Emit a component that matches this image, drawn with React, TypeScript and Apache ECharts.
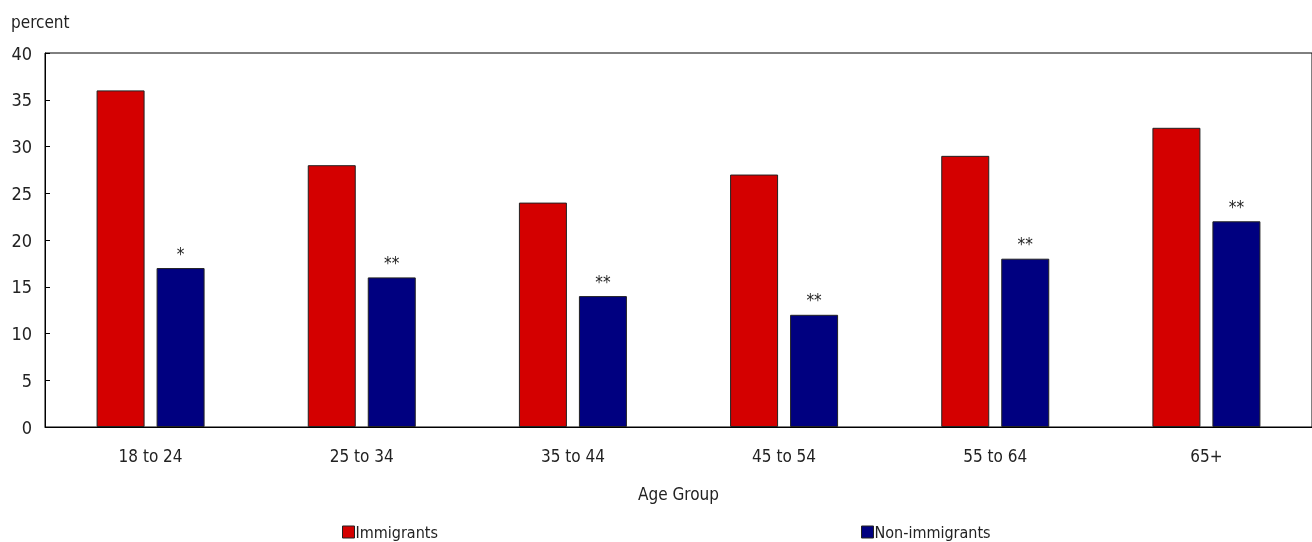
import React, { useEffect, useRef } from "react";
import * as echarts from "echarts";

const categories = ["18 to 24", "25 to 34", "35 to 44", "45 to 54", "55 to 64", "65+"];
const immigrants = [36, 28, 24, 27, 29, 32];
const nonImmigrants = [17, 16, 14, 12, 18, 22];
const significance = ["*", "**", "**", "**", "**", "**"];
const yTicks = { min: 0, max: 40, interval: 5 };

const FONT = "'DejaVu Sans Condensed', 'Liberation Sans Narrow', Roboto, sans-serif";
const TEXT = "#222";
const FS = 17;

export default function App() {
  const ref = useRef<HTMLDivElement>(null);
  useEffect(() => {
    if (!ref.current) return;
    const chart = echarts.init(ref.current, undefined, { renderer: "svg" });
    const legendBase = {
      top: 523,
      icon: "rect",
      itemWidth: 12,
      itemHeight: 12,
      padding: 0,
      itemStyle: { borderColor: "#222", borderWidth: 1 },
      textStyle: {
        fontFamily: FONT,
        fontSize: 16,
        lineHeight: 18,
        color: TEXT,
        padding: [0, 0, 0, -4],
      },
    };
    chart.setOption({
      animation: false,
      textStyle: { fontFamily: FONT },
      grid: {
        left: 45,
        right: -2,
        top: 53,
        bottom: 115,
        show: true,
        borderColor: "#000",
        borderWidth: 1,
        containLabel: false,
      },
      legend: [
        { ...legendBase, data: ["Immigrants"], left: 342 },
        { ...legendBase, data: ["Non-immigrants"], left: 861 },
      ],
      xAxis: {
        type: "category",
        data: categories,
        name: "Age Group",
        nameLocation: "middle",
        nameGap: 58,
        nameTextStyle: { fontFamily: FONT, fontSize: FS, color: TEXT },
        axisLine: { lineStyle: { color: "#000", width: 1 } },
        axisTick: { show: false },
        axisLabel: { fontFamily: FONT, fontSize: FS, color: TEXT, margin: 20 },
        splitLine: { show: false },
      },
      yAxis: {
        type: "value",
        min: yTicks.min,
        max: yTicks.max,
        interval: yTicks.interval,
        axisLine: { show: true, lineStyle: { color: "#000", width: 1 } },
        axisTick: { show: true, inside: true, length: 5, lineStyle: { color: "#000" } },
        axisLabel: { fontFamily: FONT, fontSize: 18, color: TEXT, margin: 13 },
        splitLine: { show: false },
      },
      graphic: [
        {
          type: "text",
          left: 11,
          top: 13,
          style: { text: "percent", fontFamily: FONT, fontSize: FS, fill: TEXT },
        },
      ],
      series: [
        {
          name: "Immigrants",
          type: "bar",
          data: immigrants,
          barWidth: 48,
          barGap: "25%",
          itemStyle: { color: "#D40000", borderColor: "#222", borderWidth: 1 },
        },
        {
          name: "Non-immigrants",
          type: "bar",
          data: nonImmigrants,
          barWidth: 48,
          barGap: "25%",
          itemStyle: { color: "#000080", borderColor: "#222", borderWidth: 1 },
          label: {
            show: true,
            position: "top",
            distance: 6,
            fontFamily: FONT,
            fontSize: FS,
            color: TEXT,
            formatter: (p: any) => significance[p.dataIndex],
          },
        },
      ],
    });
    return () => chart.dispose();
  }, []);
  return (
    <div
      ref={ref}
      style={{ position: "fixed", left: 0, top: 0, width: 1312, height: 542 }}
    />
  );
}
